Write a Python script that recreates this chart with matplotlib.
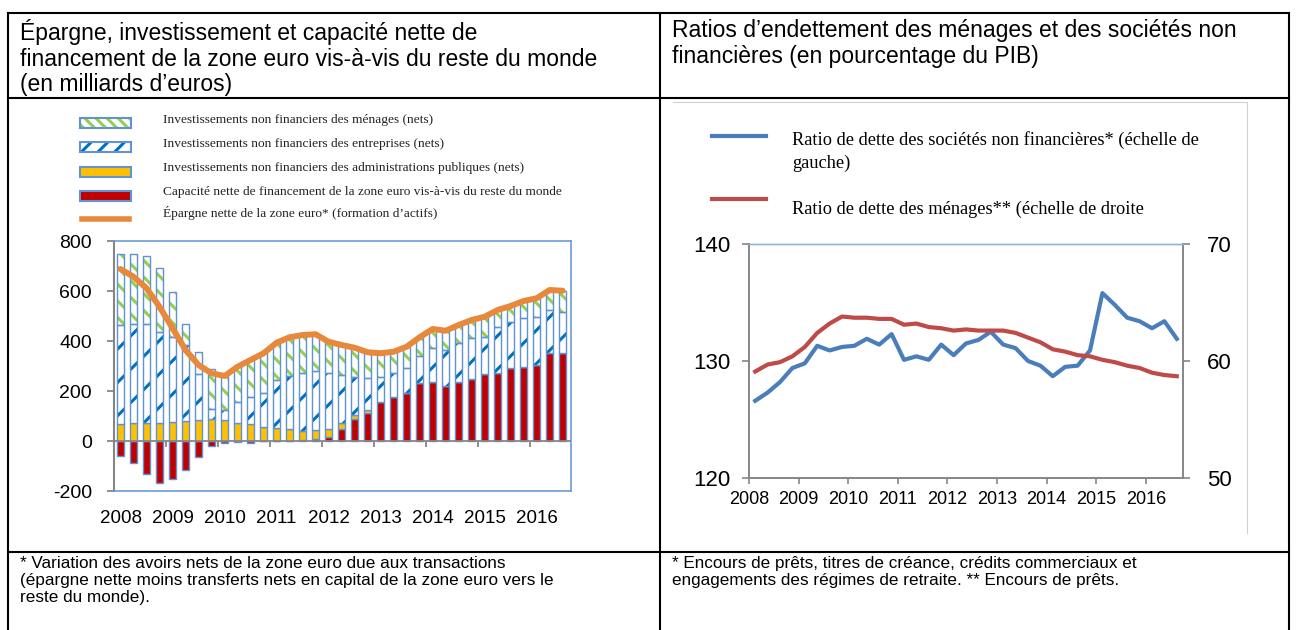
import matplotlib
matplotlib.use("Agg")
import matplotlib.pyplot as plt
from matplotlib.lines import Line2D
from matplotlib.patches import Rectangle
import numpy as np

plt.rcParams['font.family'] = ['Liberation Sans', 'DejaVu Sans']
plt.rcParams['axes.unicode_minus'] = False
plt.rcParams['hatch.linewidth'] = 2.2

# ---------------- Data ---------------- #
years = ['2008', '2009', '2010', '2011', '2012', '2013', '2014', '2015', '2016']

# left chart, quarterly 2008Q1 - 2016Q3, billions of euros
net_lending = [-60, -89, -132, -169, -151, -117, -65, -18, -8, -4, -6, 0,
               0, 0, 3, 8, 15, 48, 87, 111, 155, 177, 191, 231,
               237, 221, 237, 248, 268, 271, 291, 297, 304, 353, 351]
gov_invest = [67, 71, 71, 73, 75, 81, 84, 88, 84, 73, 67, 57,
              51, 49, 38, 38, 32, 25, 16, 12, 0, 0, 0, 0,
              0, 0, 0, 0, 0, 0, 0, 0, 0, 0, 0]
corp_invest = [397, 397, 396, 364, 342, 303, 184, 40, 40, 82, 110, 134,
               193, 212, 232, 234, 224, 191, 154, 128, 102, 94, 100, 109,
               134, 143, 154, 163, 149, 186, 186, 194, 191, 171, 166]
hh_invest = [284, 280, 274, 254, 178, 83, 88, 161, 144, 146, 153, 160,
             149, 154, 151, 147, 126, 120, 116, 104, 94, 86, 86, 75,
             77, 77, 73, 73, 80, 67, 63, 69, 76, 80, 84]
net_saving = [688, 657, 611, 537, 451, 364, 304, 271, 260, 297, 324, 351,
              393, 415, 424, 427, 397, 384, 373, 355, 351, 357, 377, 415,
              448, 441, 464, 484, 497, 524, 540, 560, 571, 604, 601]

# right chart, % of GDP
nfc_debt = [126.6, 127.3, 128.2, 129.4, 129.8, 131.3, 130.9, 131.2, 131.3, 131.9, 131.4, 132.3,
            130.1, 130.4, 130.1, 131.4, 130.5, 131.5, 131.8, 132.5, 131.4, 131.1, 130.0, 129.6,
            128.7, 129.5, 129.6, 130.9, 135.8, 134.8, 133.7, 133.4, 132.8, 133.4, 131.9]
hh_debt = [59.1, 59.7, 59.9, 60.4, 61.2, 62.4, 63.2, 63.8, 63.7, 63.7, 63.6, 63.6,
           63.1, 63.2, 62.9, 62.8, 62.6, 62.7, 62.6, 62.6, 62.6, 62.4, 62.0, 61.6,
           61.0, 60.8, 60.5, 60.4, 60.1, 59.9, 59.6, 59.4, 59.0, 58.8, 58.7]

left_legend = ['Investissements non financiers des ménages (nets)',
               'Investissements non financiers des entreprises (nets)',
               'Investissements non financiers des administrations publiques (nets)',
               'Capacité nette de financement de la zone euro vis-à-vis du reste du monde',
               'Épargne nette de la zone euro* (formation d’actifs)']
right_legend = ['Ratio de dette des sociétés non financières* (échelle de', 'gauche)',
                'Ratio de dette des ménages** (échelle de droite']

# ---------------- Figure ---------------- #
W, H = 1296, 630
fig = plt.figure(figsize=(W / 100, H / 100), dpi=100)

def fx(x):
    return x / W

def fy(y):
    return 1 - y / H

def ax_at(l, t, r, b):
    return fig.add_axes([fx(l), fy(b), (r - l) / W, (b - t) / H])

def line(x0, y0, x1, y1, color='black', lw=1.5):
    fig.add_artist(Line2D([fx(x0), fx(x1)], [fy(y0), fy(y1)], color=color, lw=lw,
                          transform=fig.transFigure))

# table grid
line(8, 13, 1289, 13)
line(8, 98, 1289, 98)
line(8, 552, 1289, 552)
line(8, 13, 8, 630)
line(660, 13, 660, 630)
line(1289, 13, 1289, 630)
# frame of the right picture
line(673, 102, 1247, 102, color='#d0d0d0', lw=0.8)
line(1247, 102, 1247, 533, color='#d0d0d0', lw=0.8)

# headers / footnotes
fig.text(fx(20), fy(19), 'Épargne, investissement et capacité nette de\n'
         'financement de la zone euro vis-à-vis du reste du monde\n(en milliards d’euros)',
         fontsize=16.5, va='top', ha='left', linespacing=1.15)
fig.text(fx(672), fy(19), 'Ratios d’endettement des ménages et des sociétés non\n'
         'financières (en pourcentage du PIB)',
         fontsize=16.5, va='top', ha='left', linespacing=1.15)
fig.text(fx(20), fy(556), '* Variation des avoirs nets de la zone euro due aux transactions\n'
         '(épargne nette moins transferts nets en capital de la zone euro vers le\n'
         'reste du monde).', fontsize=12.3, va='top', ha='left', linespacing=1.16)
fig.text(fx(672), fy(556), '* Encours de prêts, titres de créance, crédits commerciaux et\n'
         'engagements des régimes de retraite. ** Encours de prêts.',
         fontsize=12.3, va='top', ha='left', linespacing=1.16)

GRAY = '#868686'
EDGE = '#5F93D3'
GREEN = '#92D050'
BLUE = '#0070C0'
YELLOW = '#FFC000'
RED = '#C00000'
ORANGE = '#E8883A'

# ---------------- Left chart ---------------- #
ax = ax_at(114, 241, 571, 491)
x = np.arange(len(net_saving))
red = np.array(net_lending)
pos_red = np.clip(red, 0, None)
bw = 0.55

ax.bar(x, red, bw, color=RED, edgecolor=EDGE, lw=1, zorder=2)
ax.bar(x, gov_invest, bw, bottom=pos_red, color=YELLOW, edgecolor=EDGE, lw=1, zorder=2)
b2 = pos_red + np.array(gov_invest)
ax.bar(x, corp_invest, bw, bottom=b2, color='white', edgecolor=BLUE, hatch='/', lw=0, zorder=2)
ax.bar(x, corp_invest, bw, bottom=b2, fill=False, edgecolor=EDGE, lw=1, zorder=3)
b3 = b2 + np.array(corp_invest)
ax.bar(x, hh_invest, bw, bottom=b3, color='white', edgecolor=GREEN, hatch='\\\\', lw=0, zorder=2)
ax.bar(x, hh_invest, bw, bottom=b3, fill=False, edgecolor=EDGE, lw=1, zorder=3)
ax.plot(x, net_saving, color=ORANGE, lw=4.3, solid_capstyle='round', zorder=5)

ax.axhline(0, color=GRAY, lw=1.3, zorder=4)
bounds = np.arange(1, len(years)) * 4 - 0.5
ax.vlines(bounds, -22, 0, color=GRAY, lw=1.3, zorder=4)

ax.set_xlim(-0.5, 34.64)
ax.set_ylim(-200, 800)
ax.set_yticks([-200, 0, 200, 400, 600, 800])
ax.set_xticks(np.arange(len(years)) * 4)
ax.set_xticklabels(years)
ax.tick_params(axis='x', length=0, pad=14, labelsize=13.5)
ax.tick_params(axis='y', length=5, width=1.3, color=GRAY, pad=11, labelsize=14)
for s in ['top', 'right', 'bottom']:
    ax.spines[s].set_color('#6A9BD8')
    ax.spines[s].set_linewidth(1.2)
ax.spines['left'].set_color(GRAY)
ax.spines['left'].set_linewidth(1.5)

# left legend
handles_y = [123, 147, 172, 196]
styles = [dict(facecolor='white', edgecolor=GREEN, hatch='\\\\\\'),
          dict(facecolor='white', edgecolor=BLUE, hatch='//'),
          dict(facecolor=YELLOW, edgecolor=EDGE),
          dict(facecolor=RED, edgecolor=EDGE)]
for yy, st in zip(handles_y, styles):
    if 'hatch' in st:
        fig.add_artist(Rectangle((fx(80), fy(yy + 5)), 51 / W, 10 / H, lw=0,
                                 transform=fig.transFigure, **st))
        fig.add_artist(Rectangle((fx(80), fy(yy + 5)), 51 / W, 10 / H, fill=False,
                                 edgecolor=EDGE, lw=1.5, transform=fig.transFigure))
    else:
        fig.add_artist(Rectangle((fx(80), fy(yy + 5)), 51 / W, 10 / H, lw=1.5,
                                 transform=fig.transFigure, **st))
line(82, 219, 129, 219, color=ORANGE, lw=4)
for yy, lab in zip([120, 144, 168, 192, 213], left_legend):
    fig.text(fx(163), fy(yy), lab, family=['Liberation Serif', 'DejaVu Serif'],
             fontsize=9.6, va='center', ha='left', color='#222222')

# ---------------- Right chart ---------------- #
ax2 = ax_at(749, 244, 1183, 478)
xq = np.arange(len(nfc_debt)) + 0.5
ax2.plot(xq, nfc_debt, color='#4A7EBB', lw=3)
ax2.set_xlim(0, 35)
ax2.set_ylim(120, 140)
ax2.set_yticks([120, 130, 140])
ax2.set_xticks(np.arange(len(years)) * 4)
ax2.set_xticklabels(years)
ax2.tick_params(axis='x', length=4, width=1.2, color=GRAY, pad=5, labelsize=13)
ax2.tick_params(axis='y', length=5, width=1.2, color=GRAY, pad=8, labelsize=16)

axr = ax2.twinx()
axr.plot(xq, hh_debt, color='#BE4B48', lw=3)
axr.set_ylim(50, 70)
axr.set_yticks([50, 60, 70])
axr.tick_params(axis='y', length=5, width=1.2, color=GRAY, pad=12, labelsize=16)

for a in (ax2, axr):
    for s in ['left', 'right', 'bottom']:
        a.spines[s].set_color(GRAY)
        a.spines[s].set_linewidth(1.2)
    a.spines['top'].set_color('#8DB3E2')
    a.spines['top'].set_linewidth(1)

# right legend
line(712, 136, 766, 136, color='#4A7EBB', lw=3)
line(712, 199, 766, 199, color='#BE4B48', lw=3)
for yy, lab in zip([140, 163, 209], right_legend):
    fig.text(fx(792), fy(yy), lab, family=['Liberation Serif', 'DejaVu Serif'],
             fontsize=13.2, va='center', ha='left')

fig.savefig('out.png', dpi=100)
